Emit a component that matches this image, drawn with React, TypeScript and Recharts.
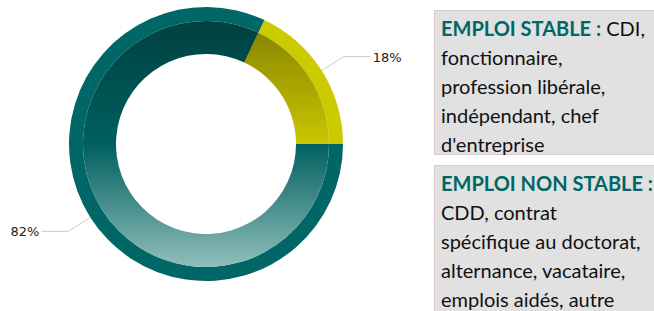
import { Cell, Pie, PieChart } from 'recharts'

const categories = ['Emploi stable', 'Emploi non stable']
const shares = [18, 82]
const bandColors = ['#cccb00', '#006766']
const gradientIds = ['gradStable', 'gradNonStable']

const data = categories.map((name, i) => ({ name, value: shares[i] }))

const RADIAN = Math.PI / 180

function renderLabel(props: any) {
  const { cx, cy, midAngle, outerRadius, value } = props
  const cos = Math.cos(-midAngle * RADIAN)
  const sin = Math.sin(-midAngle * RADIAN)
  const sx = cx + outerRadius * cos
  const sy = cy + outerRadius * sin
  const mx = cx + (outerRadius + 26) * cos
  const my = cy + (outerRadius + 26) * sin
  const right = cos >= 0
  const ex = mx + (right ? 27 : -27)
  return (
    <g>
      <polyline
        points={`${sx},${sy} ${mx},${my} ${ex},${my}`}
        stroke="#cccccc"
        strokeWidth={1}
        fill="none"
      />
      <text
        x={ex + (right ? 2 : -2)}
        y={my}
        dy={5}
        textAnchor={right ? 'start' : 'end'}
        fill="#222222"
        style={{ fontFamily: 'DejaVu Sans', fontSize: 13 }}
      >
        {value}%
      </text>
    </g>
  )
}

const boxStyle: React.CSSProperties = {
  position: 'absolute',
  left: 434,
  width: 240,
  background: '#e1e1e1',
  border: '1px solid #dccaca',
  boxSizing: 'border-box',
  padding: '3px 0 0 6px',
  fontFamily: 'Lato, sans-serif',
  fontSize: 20,
  lineHeight: '29px',
  color: '#111111',
  whiteSpace: 'nowrap',
}

const titleStyle: React.CSSProperties = { color: '#006766', fontWeight: 'bold' }

export default function App() {
  return (
    <div
      style={{
        position: 'absolute',
        left: 0,
        top: 0,
        width: 654,
        height: 311,
        overflow: 'hidden',
        background: '#ffffff',
      }}
    >
      <PieChart width={420} height={311} margin={{ top: 0, right: 0, bottom: 0, left: 0 }}>
        <defs>
          <linearGradient id="gradStable" x1="0" y1="0" x2="0" y2="1">
            <stop offset="0%" stopColor="#8b8700" />
            <stop offset="100%" stopColor="#cac600" />
          </linearGradient>
          <linearGradient id="gradNonStable" x1="0" y1="0" x2="0" y2="1">
            <stop offset="0%" stopColor="#004141" />
            <stop offset="50%" stopColor="#005f5f" />
            <stop offset="100%" stopColor="#90bebb" />
          </linearGradient>
        </defs>
        <Pie
          data={data}
          dataKey="value"
          cx={206}
          cy={144}
          innerRadius={123}
          outerRadius={137}
          startAngle={0}
          endAngle={360}
          stroke="none"
          label={renderLabel}
          labelLine={false}
          isAnimationActive={false}
        >
          {data.map((d, i) => (
            <Cell key={d.name} fill={bandColors[i]} />
          ))}
        </Pie>
        <Pie
          data={data}
          dataKey="value"
          cx={206}
          cy={144}
          innerRadius={90}
          outerRadius={123}
          startAngle={0}
          endAngle={360}
          stroke="none"
          isAnimationActive={false}
        >
          {data.map((d, i) => (
            <Cell key={d.name} fill={`url(#${gradientIds[i]})`} />
          ))}
        </Pie>
      </PieChart>
      <div style={{ ...boxStyle, top: 10, height: 145 }}>
        <span style={titleStyle}>EMPLOI STABLE :</span> CDI,
        <br />
        fonctionnaire,
        <br />
        profession libérale,
        <br />
        indépendant, chef
        <br />
        d'entreprise
      </div>
      <div style={{ ...boxStyle, top: 165, height: 160 }}>
        <span style={titleStyle}>EMPLOI NON STABLE :</span>
        <br />
        CDD, contrat
        <br />
        spécifique au doctorat,
        <br />
        alternance, vacataire,
        <br />
        emplois aidés, autre
      </div>
    </div>
  )
}
